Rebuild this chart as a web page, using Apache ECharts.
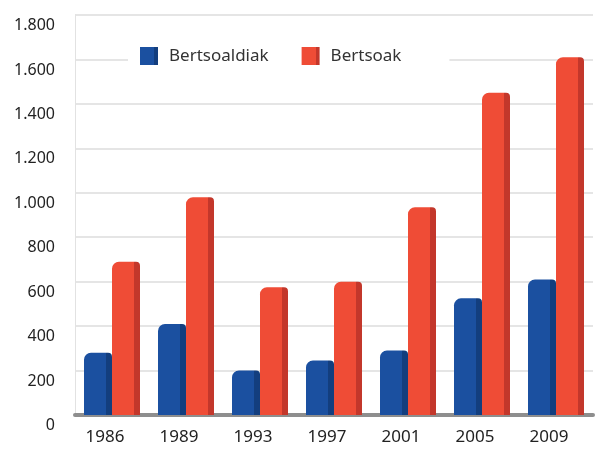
<!DOCTYPE html>
<html>
<head>
<meta charset="utf-8">
<script src="https://cdn.jsdelivr.net/npm/echarts@6/dist/echarts.min.js"></script>
<style>html,body{margin:0;padding:0;background:#fff;}#c{width:601px;height:451px;}</style>
</head>
<body>
<div id="c"></div>
<script>
var categories = ['1986', '1989', '1993', '1997', '2001', '2005', '2009'];
var bertsoaldiak = [280, 410, 200, 245, 290, 525, 610];
var bertsoak = [690, 980, 575, 600, 935, 1450, 1610];
var seriesNames = ['Bertsoaldiak', 'Bertsoak'];

var chart = echarts.init(document.getElementById('c'));
function grad(front, side) {
  return new echarts.graphic.LinearGradient(0, 0, 1, 0, [
    {offset: 0, color: front},
    {offset: 0.78, color: front},
    {offset: 0.80, color: side},
    {offset: 1, color: side}
  ]);
}
chart.setOption({
  animation: false,
  backgroundColor: '#fff',
  textStyle: {fontFamily: 'Noto Sans'},
  grid: {left: 75, right: 8, top: 15, bottom: 36},
  legend: {
    data: seriesNames,
    left: 128, top: 43,
    padding: [4, 48, 4, 12],
    backgroundColor: '#fff',
    itemWidth: 18, itemHeight: 18, itemGap: 33,
    icon: 'rect',
    textStyle: {fontSize: 17, color: '#333', fontFamily: 'Noto Sans', padding: [0, 0, 0, 6]}
  },
  xAxis: {
    type: 'category',
    data: categories,
    axisLine: {show: true, lineStyle: {color: '#8e8e8e', width: 4}},
    axisTick: {show: false},
    axisLabel: {fontSize: 17, color: '#222', margin: 14, padding: [0, 14, 0, 0]}
  },
  yAxis: {
    type: 'value',
    min: 0, max: 1800, interval: 200,
    axisLine: {show: true, lineStyle: {color: '#e2e2e2', width: 1}},
    axisTick: {show: false},
    splitLine: {lineStyle: {color: '#dcdcdc', width: 1.5}},
    axisLabel: {
      fontSize: 16, color: '#222', margin: 20,
      verticalAlign: 'top', lineHeight: 21,
      formatter: function (v) { return String(v).replace(/\B(?=(\d{3})+(?!\d))/g, '.'); }
    }
  },
  series: [
    {
      name: seriesNames[0], type: 'bar', data: bertsoaldiak,
      barWidth: 28, barGap: '0%',
      itemStyle: {color: grad('#1b50a0', '#133e7e'), borderRadius: [7, 4, 0, 0]}
    },
    {
      name: seriesNames[1], type: 'bar', data: bertsoak,
      barWidth: 28,
      itemStyle: {color: grad('#ef4c36', '#c3372b'), borderRadius: [7, 4, 0, 0]}
    }
  ]
});
</script>
</body>
</html>
